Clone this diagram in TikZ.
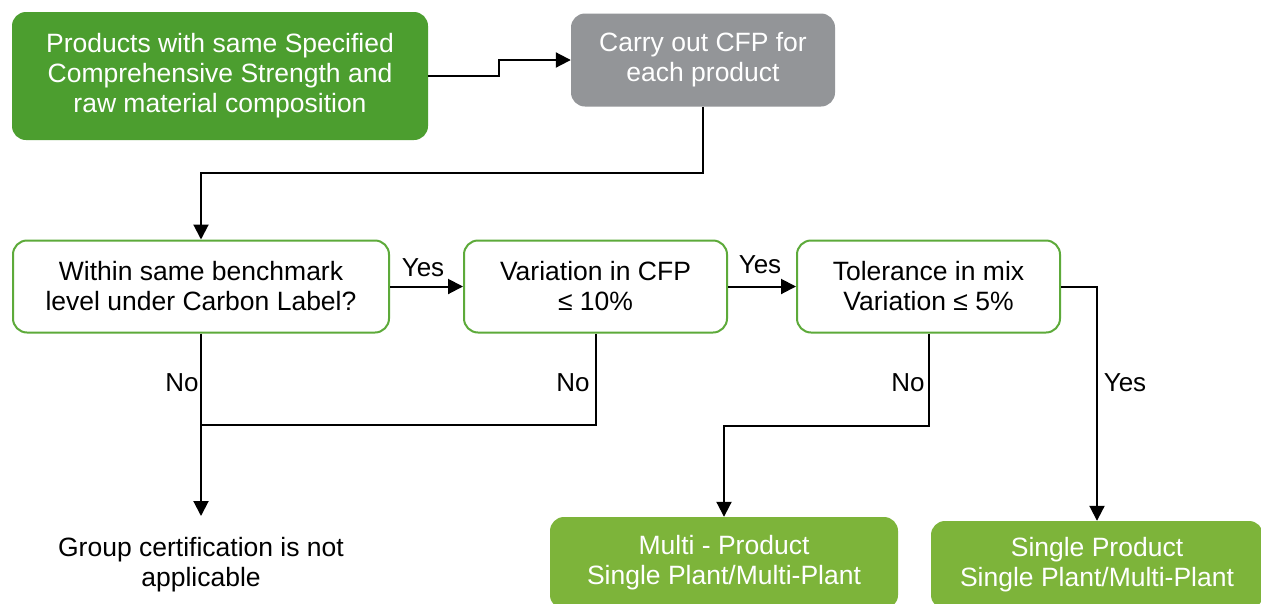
\documentclass[tikz,border=0pt]{standalone}
\usepackage{fontspec}
\setmainfont{Liberation Sans}
\definecolor{startgreen}{HTML}{4C9E2F}
\definecolor{leafgreen}{HTML}{7DB43A}
\definecolor{edgegreen}{HTML}{5DAA3A}
\definecolor{stepgray}{HTML}{939598}
\tikzset{
    box/.style={rounded corners=14pt, align=center, inner sep=0pt},
    startbox/.style={box, fill=startgreen, text=white},
    graybox/.style={box, fill=stepgray, text=white},
    askbox/.style={box, draw=edgegreen, line width=2pt, fill=white},
    endbox/.style={box, fill=leafgreen, text=white},
    link/.style={line width=2pt},
    arrow/.style={link, -{Triangle[length=15pt, width=15pt]}},
    lbl/.style={font=\fontsize{26}{30}\selectfont}
}
\usetikzlibrary{arrows.meta}
\begin{document}
\begin{tikzpicture}[x=1pt, y=-1pt, font=\fontsize{26.5}{30}\selectfont]
    \clip (0,0) rectangle (1261,603);
    \fill[white] (0,0) rectangle (1261,603);

    % Boxes
    \node[startbox, minimum width=416pt, minimum height=128pt] (start) at (220,76)
        {Products with same Specified\\Comprehensive Strength and\\raw material composition};
    \node[graybox, minimum width=264pt, minimum height=93pt] (cfp) at (703,60)
        {Carry out CFP for\\each product};
    \node[askbox, minimum width=376pt, minimum height=92pt] (bench) at (201,286.5)
        {Within same benchmark\\level under Carbon Label?};
    \node[askbox, minimum width=263pt, minimum height=92pt] (var) at (595.5,286.5)
        {Variation in CFP\\≤ 10\%};
    \node[askbox, minimum width=263pt, minimum height=92pt] (tol) at (928.5,286.5)
        {Tolerance in mix\\Variation ≤ 5\%};
    \node[endbox, minimum width=348pt, minimum height=92pt] (multi) at (724,563)
        {Multi - Product\\Single Plant/Multi-Plant};
    \node[endbox, minimum width=332pt, minimum height=88pt] (single) at (1097,565)
        {Single Product\\Single Plant/Multi-Plant};
    \node[align=center] (grp) at (201,565)
        {Group certification is not\\applicable};
    \coordinate (grptop) at (201,516);
    \coordinate (join) at (201,425);

    % Connectors
    \draw[arrow] (start.east) -- ++(71,0) |- (cfp.west);
    \draw[arrow] (cfp.south) -- ++(0,66) -| (bench.north);
    \draw[arrow] (bench.east) -- (var.west);
    \draw[arrow] (var.east) -- (tol.west);
    \draw[arrow] (bench.south) -- (grptop);
    \draw[link] (var.south) |- (join);
    \draw[arrow] (tol.south) -- ++(0,92) -| (multi.north);
    \draw[arrow] (tol.east) -| (single.north);

    % Labels
    \node[lbl] (yes1) at (423,268) {Yes};
    \node[lbl] (yes2) at (760,265) {Yes};
    \node[lbl] (no1) at (182,383) {No};
    \node[lbl] (no2) at (573,383) {No};
    \node[lbl] (no3) at (908,383) {No};
    \node[lbl] (yes3) at (1125,383) {Yes};
\end{tikzpicture}
\end{document}
